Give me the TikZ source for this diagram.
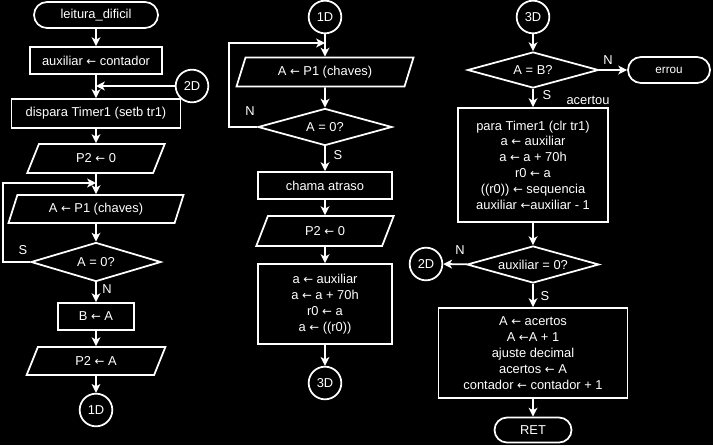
\documentclass[tikz,border=0pt]{standalone}
\usepackage{fontspec}
\setmainfont{Liberation Sans}
\newfontfamily\arrowfont{DejaVu Sans}
\newcommand{\lar}{{\arrowfont\fontsize{10}{12}\selectfont ←}}
\usepackage{tikz}
\usetikzlibrary{shapes.geometric, shapes.misc, arrows.meta}

\begin{document}
\begin{tikzpicture} [
        x=0.03cm, y=-0.03cm,
        white, line width=1.5pt,
        font=\fontsize{11}{13.5}\selectfont,
        sz/.style 2 args={minimum width=#1cm, minimum height=#2cm},
        term/.style={draw, rounded rectangle, inner sep=0},
        proc/.style={draw, rectangle, inner sep=0, align=center},
        io/.style={draw, trapezium, trapezium left angle=66, trapezium right angle=114, trapezium stretches=true, inner sep=0},
        dec/.style={draw, diamond, aspect=3.5, inner sep=0},
        conn/.style={draw, circle, minimum size=0.98cm, inner sep=0},
        flow/.style={-{Stealth[length=7.5pt, width=7.5pt, inset=2pt]}},
        lbl/.style={inner sep=1pt}
    ]
        \fill[black] (0,0) rectangle (713,445);
        \useasboundingbox (0,0) rectangle (713,445);

        % first column
        \node [term, sz={3.72}{0.78}] (start) at (96,15) {leitura\_dificil};
        \node [proc, sz={3.96}{0.81}] (aux) at (96,60.5) {auxiliar \lar{} contador};
        \node [conn] (c2a) at (192,86) {2D};
        \node [proc, sz={5.07}{0.87}] (disp) at (96,113.5) {dispara Timer1 (setb tr1)};
        \node [io, sz={4.14}{0.87}] (p20a) at (96,158.5) {P2 \lar{} 0};
        \node [io, sz={5.28}{0.84}] (in1) at (96,209) {A \lar{} P1 (chaves)};
        \node [dec, sz={3.9}{1.17}] (dec1) at (96,262) {A = 0?};
        \node [proc, sz={2.28}{0.81}] (bA) at (96,316.5) {B \lar{} A};
        \node [io, sz={4.17}{0.84}] (p2A) at (96,361) {P2 \lar{} A};
        \node [conn] (c1a) at (96,410) {1D};
        \node [lbl] (s1) at (23,250) {S};
        \node [lbl] (n1) at (107,289) {N};
        \coordinate (loop1) at (3,183);

        % second column
        \node [conn] (c1b) at (325,17) {1D};
        \node [io, sz={5.34}{0.87}] (in2) at (325,72) {A \lar{} P1 (chaves)};
        \node [dec, sz={4.02}{1.11}] (dec2) at (325,127) {A = 0?};
        \node [proc, sz={4.02}{0.81}] (chama) at (325,185.5) {chama atraso};
        \node [io, sz={4.14}{0.9}] (p20b) at (325,231) {P2 \lar{} 0};
        \node [proc, sz={4.02}{2.4}] (calc) at (325,304) {a \lar{} auxiliar\\a \lar{} a + 70h\\r0 \lar{} a\\a \lar{} ((r0))};
        \node [conn] (c3a) at (325,383) {3D};
        \node [lbl] (n2) at (250,111) {N};
        \node [lbl] (s2) at (338,155) {S};
        \coordinate (loop2) at (229,43);

        % third column
        \node [conn] (c3b) at (533,17) {3D};
        \node [dec, sz={3.93}{1.08}] (decAB) at (533,70) {A = B?};
        \node [term, sz={2.46}{0.78}, font=\fontsize{10}{12}\selectfont] (errou) at (669,70) {errou};
        \node [proc, sz={4.5}{3.42}] (hit) at (533,165) {para Timer1 (clr tr1)\\a \lar{} auxiliar\\a \lar{} a + 70h\\r0 \lar{} a\\((r0)) \lar{} sequencia\\auxiliar \lar auxiliar - 1};
        \node [dec, sz={3.96}{1.11}] (decAux) at (533,264.5) {auxiliar = 0?};
        \node [conn] (c2b) at (426,264) {2D};
        \node [proc, sz={5.67}{2.7}] (score) at (533,353) {A \lar{} acertos\\A \lar A + 1\\ajuste decimal\\acertos \lar{} A\\contador \lar{} contador + 1};
        \node [term, sz={2.31}{0.75}] (ret) at (533,430) {RET};
        \node [lbl] (n3) at (608,60) {N};
        \node [lbl] (s3) at (547,95) {S};
        \node [lbl] (ok) at (588,100) {acertou};
        \node [lbl] (n4) at (460,250) {N};
        \node [lbl] (s4) at (545,296) {S};

        \foreach \a/\b in {start/aux, disp/p20a, p20a/in1, in1/dec1, dec1/bA, bA/p2A, p2A/c1a,
                c1b/in2, in2/dec2, dec2/chama, chama/p20b, p20b/calc, calc/c3a,
                c3b/decAB, decAB/hit, hit/decAux, decAux/score, score/ret} {
            \draw[flow] (\a) -- (\b);
        }
        \draw[flow] (aux) -- (disp);
        \draw[flow] (c2a) -- (c2a -| aux);
        \draw[flow] (dec1.west) -| (loop1) -- (loop1 -| dec1);
        \draw[flow] (dec2.west) -| (loop2) -- (loop2 -| dec2);
        \draw[flow] (decAB) -- (errou);
        \draw[flow] (decAux) -- (c2b);
    \end{tikzpicture}
\end{document}
